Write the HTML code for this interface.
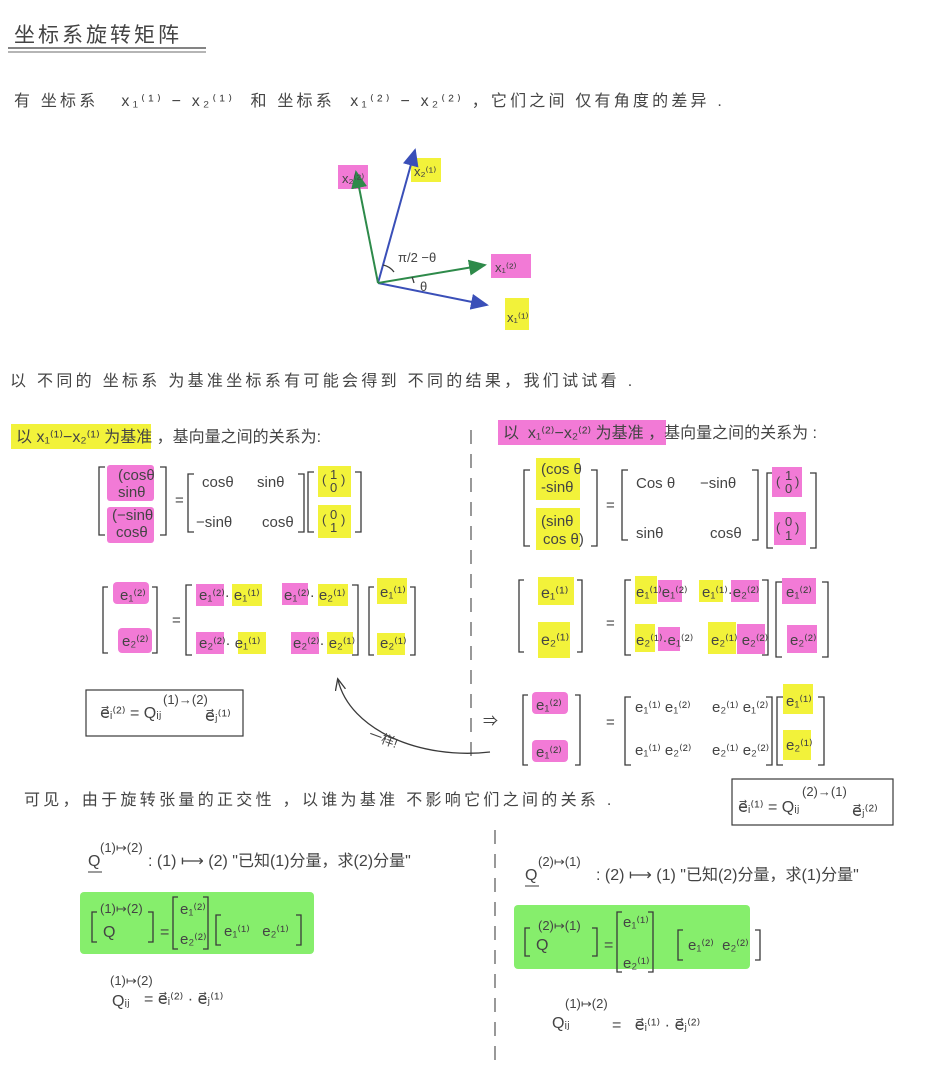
<!DOCTYPE html>
<html><head><meta charset="utf-8"><style>
html,body{margin:0;padding:0;background:#fff;}
svg{display:block;}
text{font-family:"Liberation Sans","Noto Sans CJK SC",sans-serif;fill:#444;}
.t{font-size:16px;}
.m{font-size:15px;}
.s{font-size:13px;}
.br{fill:none;stroke:#3a3a3a;stroke-width:1.3;}
.pk{fill:#f27ad6;}
.yl{fill:#f2f23a;}
.gr{fill:#86ee6c;}
</style></head><body>
<svg width="938" height="1070" viewBox="0 0 938 1070">
<defs>
<marker id="ab" markerWidth="10" markerHeight="10" refX="8" refY="4" orient="auto"><path d="M0,0 L9,4 L0,8 z" fill="#3a4fb8"/></marker>
<marker id="ag" markerWidth="10" markerHeight="10" refX="8" refY="4" orient="auto"><path d="M0,0 L9,4 L0,8 z" fill="#2e8a4a"/></marker>
<marker id="ak" markerWidth="10" markerHeight="10" refX="8" refY="4" orient="auto"><path d="M0,0 L9,4 L0,8" fill="none" stroke="#3a3a3a"/></marker>
</defs>

<g>
<text x="14" y="42" style="font-size:21px;letter-spacing:3px">坐标系旋转矩阵</text>
<line x1="8" y1="48" x2="206" y2="48" stroke="#3a3a3a" stroke-width="1.3"/>
<line x1="8" y1="52" x2="206" y2="52" stroke="#3a3a3a" stroke-width="0.8"/>
</g>

<text class="t" x="14" y="106" style="letter-spacing:3.2px">有 坐标系 &#160; x₁⁽¹⁾ − x₂⁽¹⁾ &#160;和 坐标系 &#160;x₁⁽²⁾ − x₂⁽²⁾ ，它们之间 仅有角度的差异 .</text>

<g>
<rect class="pk" x="338" y="165" width="30" height="24"/>
<rect class="yl" x="411" y="158" width="30" height="24"/>
<rect class="pk" x="491" y="254" width="40" height="24"/>
<rect class="yl" x="505" y="298" width="24" height="32"/>
<line x1="378" y1="283" x2="415" y2="150" stroke="#3a4fb8" stroke-width="2" marker-end="url(#ab)"/>
<line x1="378" y1="283" x2="487" y2="305" stroke="#3a4fb8" stroke-width="2" marker-end="url(#ab)"/>
<line x1="378" y1="283" x2="356" y2="172" stroke="#2e8a4a" stroke-width="2" marker-end="url(#ag)"/>
<line x1="378" y1="283" x2="485" y2="265" stroke="#2e8a4a" stroke-width="2" marker-end="url(#ag)"/>
<path d="M383 265 A18 18 0 0 1 394 272" class="br"/>
<path d="M414 283 A36 36 0 0 0 412 277" class="br"/>
<text class="s" x="342" y="183">x₂⁽²⁾</text>
<text class="s" x="414" y="176">x₂⁽¹⁾</text>
<text class="s" x="495" y="272">x₁⁽²⁾</text>
<text class="s" x="507" y="322">x₁⁽¹⁾</text>
<text class="s" x="398" y="262">π/2 −θ</text>
<text class="s" x="420" y="291">θ</text>
</g>

<text class="t" x="10" y="386" style="letter-spacing:3.3px">以 不同的 坐标系 为基准坐标系有可能会得到 不同的结果，我们试试看 .</text>

<rect class="yl" x="11" y="424" width="140" height="25"/>
<text class="t" x="16" y="442">以 x₁⁽¹⁾−x₂⁽¹⁾ 为基准 ，基向量之间的关系为:</text>
<rect class="pk" x="498" y="420" width="168" height="25"/>
<text class="t" x="503" y="438">以 &#160;x₁⁽²⁾−x₂⁽²⁾ 为基准 ，基向量之间的关系为 :</text>

<line x1="471" y1="430" x2="471" y2="765" stroke="#555" stroke-width="1.2" stroke-dasharray="14,10"/>
<line x1="495" y1="830" x2="495" y2="1060" stroke="#555" stroke-width="1.2" stroke-dasharray="14,10"/>

<g>
<path class="br" d="M105 467 h-6 v68 h6 M160 467 h6 v68 h-6"/>
<rect class="pk" x="107" y="465" width="47" height="36" rx="3"/>
<rect class="pk" x="107" y="507" width="47" height="36" rx="3"/>
<text class="m" x="118" y="480">(cosθ</text><text class="m" x="118" y="497">sinθ</text>
<text class="m" x="112" y="520">(−sinθ</text><text class="m" x="116" y="537">cosθ</text>
<text class="m" x="175" y="505">=</text>
<path class="br" d="M194 474 h-6 v58 h6 M298 474 h6 v58 h-6"/>
<text class="m" x="202" y="487">cosθ</text><text class="m" x="257" y="487">sinθ</text>
<text class="m" x="196" y="527">−sinθ</text><text class="m" x="262" y="527">cosθ</text>
<path class="br" d="M314 472 h-6 v60 h6 M355 472 h6 v60 h-6"/>
<rect class="yl" x="318" y="466" width="33" height="31"/>
<rect class="yl" x="318" y="505" width="33" height="33"/>
<text class="s" x="322" y="484">(</text><text class="s" x="330" y="479">1</text><text class="s" x="330" y="492">0</text><text class="s" x="341" y="484">)</text>
<text class="s" x="322" y="524">(</text><text class="s" x="330" y="519">0</text><text class="s" x="330" y="532">1</text><text class="s" x="341" y="524">)</text>
</g>

<g>
<path class="br" d="M108 587 h-5 v66 h5 M152 587 h5 v66 h-5"/>
<rect class="pk" x="113" y="582" width="36" height="22" rx="4"/>
<rect class="pk" x="118" y="628" width="34" height="25" rx="4"/>
<text class="m" x="120" y="600">e₁⁽²⁾</text><text class="m" x="122" y="646">e₂⁽²⁾</text>
<text class="m" x="172" y="625">=</text>
<path class="br" d="M192 585 h-6 v70 h6 M352 585 h6 v70 h-6"/>
<rect class="pk" x="196" y="584" width="28" height="22"/><rect class="yl" x="232" y="584" width="30" height="22"/>
<rect class="pk" x="282" y="583" width="26" height="22"/><rect class="yl" x="318" y="584" width="30" height="22"/>
<rect class="pk" x="196" y="632" width="28" height="22"/><rect class="yl" x="238" y="632" width="28" height="22"/>
<rect class="pk" x="291" y="632" width="28" height="22"/><rect class="yl" x="327" y="632" width="26" height="22"/>
<text class="m" x="199" y="600">e₁⁽²⁾· e₁⁽¹⁾</text><text class="m" x="284" y="600">e₁⁽²⁾· e₂⁽¹⁾</text>
<text class="m" x="199" y="648">e₂⁽²⁾· e₁⁽¹⁾</text><text class="m" x="293" y="648">e₂⁽²⁾· e₂⁽¹⁾</text>
<path class="br" d="M374 587 h-5 v68 h5 M410 587 h5 v68 h-5"/>
<rect class="yl" x="377" y="578" width="30" height="26"/><rect class="yl" x="377" y="633" width="28" height="22"/>
<text class="m" x="380" y="597">e₁⁽¹⁾</text><text class="m" x="380" y="648">e₂⁽¹⁾</text>
</g>

<g>
<rect x="86" y="690" width="157" height="46" fill="none" stroke="#3a3a3a" stroke-width="1.2"/>
<text class="t" x="100" y="718">e⃗ᵢ⁽²⁾ = Qᵢⱼ</text>
<text class="s" x="163" y="704">(1)→(2)</text>
<text class="t" x="205" y="721">e⃗ⱼ⁽¹⁾</text>
</g>

<g>
<path d="M490 752 C420 760 350 730 338 680" class="br" marker-end="url(#ak)"/>
<text class="s" x="368" y="738" transform="rotate(20 368 738)">一样!</text>
</g>

<g>
<path class="br" d="M530 470 h-6 v76 h6 M591 470 h6 v76 h-6"/>
<rect class="yl" x="536" y="458" width="44" height="42"/>
<rect class="yl" x="536" y="508" width="44" height="42"/>
<text class="m" x="541" y="474">(cos θ</text><text class="m" x="541" y="492">-sinθ</text>
<text class="m" x="541" y="526">(sinθ</text><text class="m" x="543" y="544">cos θ)</text>
<text class="m" x="606" y="510">=</text>
<path class="br" d="M628 470 h-6 v70 h6 M752 470 h6 v70 h-6"/>
<text class="m" x="636" y="488">Cos θ</text><text class="m" x="700" y="488">−sinθ</text>
<text class="m" x="636" y="538">sinθ</text><text class="m" x="710" y="538">cosθ</text>
<path class="br" d="M773 473 h-6 v75 h6 M810 473 h6 v75 h-6"/>
<rect class="pk" x="772" y="467" width="30" height="30"/>
<rect class="pk" x="774" y="512" width="32" height="33"/>
<text class="s" x="776" y="486">(</text><text class="s" x="785" y="480">1</text><text class="s" x="785" y="493">0</text><text class="s" x="795" y="486">)</text>
<text class="s" x="776" y="532">(</text><text class="s" x="785" y="526">0</text><text class="s" x="785" y="540">1</text><text class="s" x="795" y="532">)</text>
</g>

<g>
<path class="br" d="M524 580 h-5 v72 h5 M577 580 h5 v72 h-5"/>
<rect class="yl" x="538" y="577" width="36" height="28"/><rect class="yl" x="538" y="622" width="32" height="36"/>
<text class="t" x="541" y="598">e₁⁽¹⁾</text><text class="t" x="541" y="645">e₂⁽¹⁾</text>
<text class="m" x="606" y="628">=</text>
<path class="br" d="M631 580 h-6 v75 h6 M762 580 h6 v75 h-6"/>
<rect class="yl" x="635" y="576" width="22" height="28"/><rect class="pk" x="658" y="580" width="24" height="22"/>
<rect class="yl" x="699" y="580" width="24" height="22"/><rect class="pk" x="731" y="580" width="28" height="22"/>
<rect class="yl" x="635" y="624" width="20" height="28"/><rect class="pk" x="658" y="627" width="22" height="24"/>
<rect class="yl" x="708" y="622" width="28" height="32"/><rect class="pk" x="737" y="624" width="28" height="30"/>
<text class="m" x="636" y="597">e₁⁽¹⁾e₁⁽²⁾</text><text class="m" x="702" y="597">e₁⁽¹⁾·e₂⁽²⁾</text>
<text class="m" x="636" y="645">e₂⁽¹⁾·e₁⁽²⁾</text><text class="m" x="711" y="645">e₂⁽¹⁾ e₂⁽²⁾</text>
<path class="br" d="M782 582 h-6 v75 h6 M822 582 h6 v75 h-6"/>
<rect class="pk" x="782" y="578" width="34" height="26"/><rect class="pk" x="787" y="625" width="30" height="28"/>
<text class="m" x="786" y="597">e₁⁽²⁾</text><text class="m" x="790" y="645">e₂⁽²⁾</text>
</g>

<g>
<text class="m" x="483" y="726">⇒</text>
<path class="br" d="M528 695 h-5 v70 h5 M575 695 h5 v70 h-5"/>
<rect class="pk" x="532" y="692" width="36" height="22" rx="4"/><rect class="pk" x="532" y="740" width="36" height="22" rx="4"/>
<text class="m" x="536" y="710">e₁⁽²⁾</text><text class="m" x="536" y="757">e₁⁽²⁾</text>
<text class="m" x="606" y="727">=</text>
<path class="br" d="M631 697 h-6 v68 h6 M766 697 h6 v68 h-6"/>
<text class="m" x="635" y="712">e₁⁽¹⁾ e₁⁽²⁾</text><text class="m" x="712" y="712">e₂⁽¹⁾ e₁⁽²⁾</text>
<text class="m" x="635" y="755">e₁⁽¹⁾ e₂⁽²⁾</text><text class="m" x="712" y="755">e₂⁽¹⁾ e₂⁽²⁾</text>
<path class="br" d="M783 697 h-6 v68 h6 M818 697 h6 v68 h-6"/>
<rect class="yl" x="783" y="684" width="30" height="30"/><rect class="yl" x="783" y="730" width="28" height="30"/>
<text class="m" x="786" y="706">e₁⁽¹⁾</text><text class="m" x="786" y="750">e₂⁽¹⁾</text>
</g>

<text class="t" x="24" y="805" style="letter-spacing:3.3px">可见，由于旋转张量的正交性 ，以谁为基准 不影响它们之间的关系 .</text>

<g>
<rect x="732" y="779" width="161" height="46" fill="none" stroke="#3a3a3a" stroke-width="1.2"/>
<text class="t" x="738" y="812">e⃗ᵢ⁽¹⁾ = Qᵢⱼ</text>
<text class="s" x="802" y="796">(2)→(1)</text>
<text class="t" x="852" y="816">e⃗ⱼ⁽²⁾</text>
</g>

<g>
<text class="t" x="88" y="866">Q</text><text class="s" x="100" y="852">(1)↦(2)</text>
<text class="t" x="148" y="866">: (1) ⟼ (2) "已知(1)分量，求(2)分量"</text>
<line x1="88" y1="872" x2="102" y2="872" stroke="#3a3a3a"/>
<rect class="gr" x="80" y="892" width="234" height="62" rx="4"/>
<path class="br" d="M97 912 h-5 v30 h5 M148 912 h5 v30 h-5"/>
<text class="t" x="103" y="937">Q</text><text class="s" x="100" y="913">(1)↦(2)</text>
<text class="t" x="160" y="937">=</text>
<path class="br" d="M178 897 h-5 v52 h5 M203 897 h5 v52 h-5"/>
<text class="m" x="180" y="914">e₁⁽²⁾</text><text class="m" x="180" y="944">e₂⁽²⁾</text>
<path class="br" d="M221 915 h-5 v30 h5 M296 915 h5 v30 h-5"/>
<text class="m" x="224" y="936">e₁⁽¹⁾ &#160; e₂⁽¹⁾</text>
<text class="t" x="112" y="1006">Qᵢⱼ</text><text class="s" x="110" y="985">(1)↦(2)</text>
<text class="t" x="144" y="1004">= e⃗ᵢ⁽²⁾ · e⃗ⱼ⁽¹⁾</text>
</g>

<g>
<text class="t" x="525" y="880">Q</text><text class="s" x="538" y="866">(2)↦(1)</text>
<text class="t" x="596" y="880">: (2) ⟼ (1) "已知(2)分量，求(1)分量"</text>
<line x1="525" y1="886" x2="539" y2="886" stroke="#3a3a3a"/>
<rect class="gr" x="514" y="905" width="236" height="64" rx="4"/>
<path class="br" d="M530 928 h-5 v28 h5 M592 928 h5 v28 h-5"/>
<text class="t" x="536" y="950">Q</text><text class="s" x="538" y="930">(2)↦(1)</text>
<text class="t" x="604" y="950">=</text>
<path class="br" d="M622 912 h-5 v60 h5 M648 912 h5 v60 h-5"/>
<text class="m" x="623" y="927">e₁⁽¹⁾</text><text class="m" x="623" y="968">e₂⁽¹⁾</text>
<path class="br" d="M683 930 h-5 v30 h5 M755 930 h5 v30 h-5"/>
<text class="m" x="688" y="950">e₁⁽²⁾ &#160;e₂⁽²⁾</text>
<text class="t" x="552" y="1028">Qᵢⱼ</text><text class="s" x="565" y="1008">(1)↦(2)</text>
<text class="t" x="612" y="1030">= &#160; e⃗ᵢ⁽¹⁾ · e⃗ⱼ⁽²⁾</text>
</g>
</svg>
</body></html>
